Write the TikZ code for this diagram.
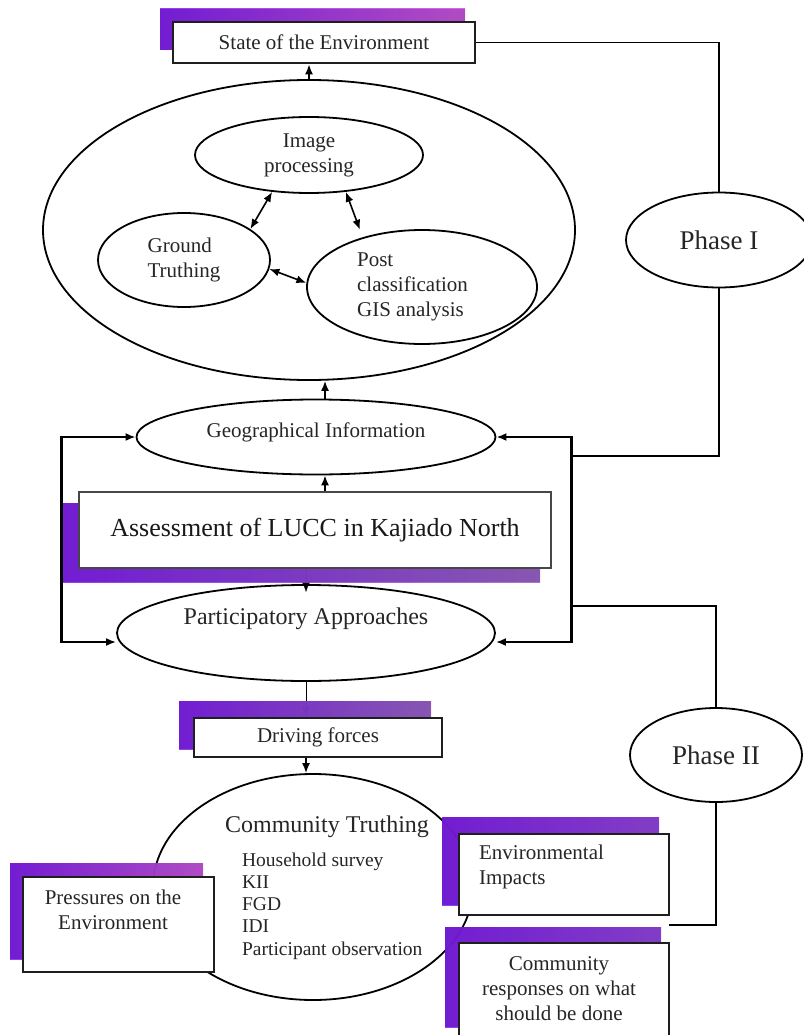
\documentclass[tikz,border=0pt]{standalone}
\usepackage{fontspec}
\setmainfont{Liberation Serif}
\usetikzlibrary{shapes.geometric,arrows.meta,backgrounds}

\definecolor{barviolet}{RGB}{128,28,240}
\definecolor{barpink}{RGB}{202,82,224}
\definecolor{barlilac}{RGB}{152,96,202}
\definecolor{barpurple}{RGB}{146,66,226}

\begin{document}
\begin{tikzpicture}[x=1pt,y=-1pt,line width=1.6pt,
        >={Latex[length=10pt,width=8pt]},
        oval/.style={ellipse,draw,inner sep=0pt,line width=1.8pt},
        boxnode/.style={rectangle,draw=black!88,fill=white,line width=2.8pt,inner sep=0pt},
        shadowbar/.style={left color=barviolet,right color=#1,fill opacity=0.85},
        lbl/.style={font=\fontsize{21}{25}\selectfont,align=center,text=black!85},
        midlbl/.style={font=\fontsize{24}{28}\selectfont,align=center,text=black!85},
        biglbl/.style={font=\fontsize{26}{30}\selectfont,align=center,text=black!90},
        phaselbl/.style={font=\fontsize{27}{31}\selectfont,text=black!85}]
    \useasboundingbox (0,0) rectangle (803,1035);

    % phase I : remote sensing part
    \node[oval,minimum width=532,minimum height=300] (big) at (309,230) {};
    \node[oval,lbl,minimum width=228,minimum height=76] (img) at (309,155) {Image\\processing};
    \node[oval,lbl,align=left,minimum width=172,minimum height=94] (ground) at (184,260) {Ground\\Truthing};
    \node[oval,minimum width=230,minimum height=114] (post) at (422,287) {};
    \node[lbl,align=left,anchor=west] (posttxt) at (353,287) {Post\\classification\\GIS analysis};

    \draw[<->] (img.225) -- (ground.25);
    \draw[<->,shorten >=8pt] (img.315) -- (post.140);
    \draw[<->] (ground.354) -- (post.178);

    \node[oval,minimum width=359,minimum height=75] (geo) at (316,437) {};
    \node[lbl] (geotxt) at (316,432) {Geographical Information};
    \node[oval,minimum width=378,minimum height=96] (part) at (306,633) {};
    \node[midlbl] (parttxt) at (306,619) {Participatory Approaches};

    \node[phaselbl,oval,minimum width=186,minimum height=95] (ph1) at (719,240) {Phase I};
    \node[phaselbl,oval,minimum width=172,minimum height=94] (ph2) at (716,755) {Phase II};

    % phase II : community truthing
    \node[oval,minimum width=320,minimum height=226] (comm) at (313,887) {};
    \node[midlbl] (commtxt) at (327,827) {Community Truthing};
    \node[align=left,anchor=west,text=black!85,font=\fontsize{19.5}{22.2}\selectfont] (methods) at (238,906)
        {Household survey\\KII\\FGD\\IDI\\Participant observation};

    % shadows and boxes
    \fill[shadowbar=barpink] (160,9) rectangle (465,50);
    \node[boxnode,lbl,minimum width=302,minimum height=41] (state) at (324,42.5) {State of the Environment};

    \fill[shadowbar=barlilac] (63,503) rectangle (540,582);
    \node[boxnode,biglbl,draw=black!72,minimum width=472,minimum height=76] (assess) at (315,530)
        {Assessment of LUCC in Kajiado North};

    \fill[shadowbar=barlilac] (179,701) rectangle (431,749);
    \node[boxnode,lbl,minimum width=248,minimum height=39] (drive) at (318,737.5) {Driving forces};

    \fill[shadowbar=barpink] (10,863) rectangle (203,959);
    \node[boxnode,minimum width=191,minimum height=95] (press) at (118.5,924.5) {};
    \node[lbl] (presstxt) at (113,910) {Pressures on the\\Environment};

    \fill[shadowbar=barpurple] (442,817) rectangle (659,905);
    \node[boxnode,minimum width=210,minimum height=81] (impact) at (564,874.5) {};
    \node[lbl,align=left,anchor=west] (impacttxt) at (475,867) {Environmental\\Impacts};

    \fill[shadowbar=barpurple] (445,927) rectangle (661,1027);
    \node[boxnode,minimum width=210,minimum height=107] (resp) at (564,996.5) {};
    \node[lbl] (resptxt) at (559,989) {Community\\responses on what\\should be done};

    % connectors
    \draw[->] (big.north) -- (big.north |- state.south);
    \draw[->] ([xshift=9]geo.north) -- ([xshift=9]geo.north |- big.south);
    \draw[->] ([xshift=10]assess.north) -- ([xshift=10]assess.north |- geo.south);
    \draw[<->,line width=2.6pt] (geo.west) -- ++(-74,0) |- ([yshift=-9]part.west);
    \draw[<->,line width=2.6pt] (geo.east) -- ++(75,0) |- ([yshift=-9]part.east);
    \draw[->] (part.south |- drive.south) -- (part.south |- comm.north);

    \coordinate (rtop) at (570,456);
    \coordinate (rbot) at (570,606);
    \coordinate (pend) at (669,925);
    \draw (state.east) -| (ph1.north);
    \draw (ph1.south) |- (rtop);
    \draw (ph2.north) |- (rbot);
    \draw (ph2.south) |- (pend);

    \begin{pgfonlayer}{background}
        \fill[white] (0,0) rectangle (803,1035);
        % these pass under the shadow bars
        \draw[->,shorten >=-8pt] (assess.south -| part.north) -- (part.north);
        \draw[->] (part.south) -- (part.south |- drive.north);
    \end{pgfonlayer}
\end{tikzpicture}
\end{document}
